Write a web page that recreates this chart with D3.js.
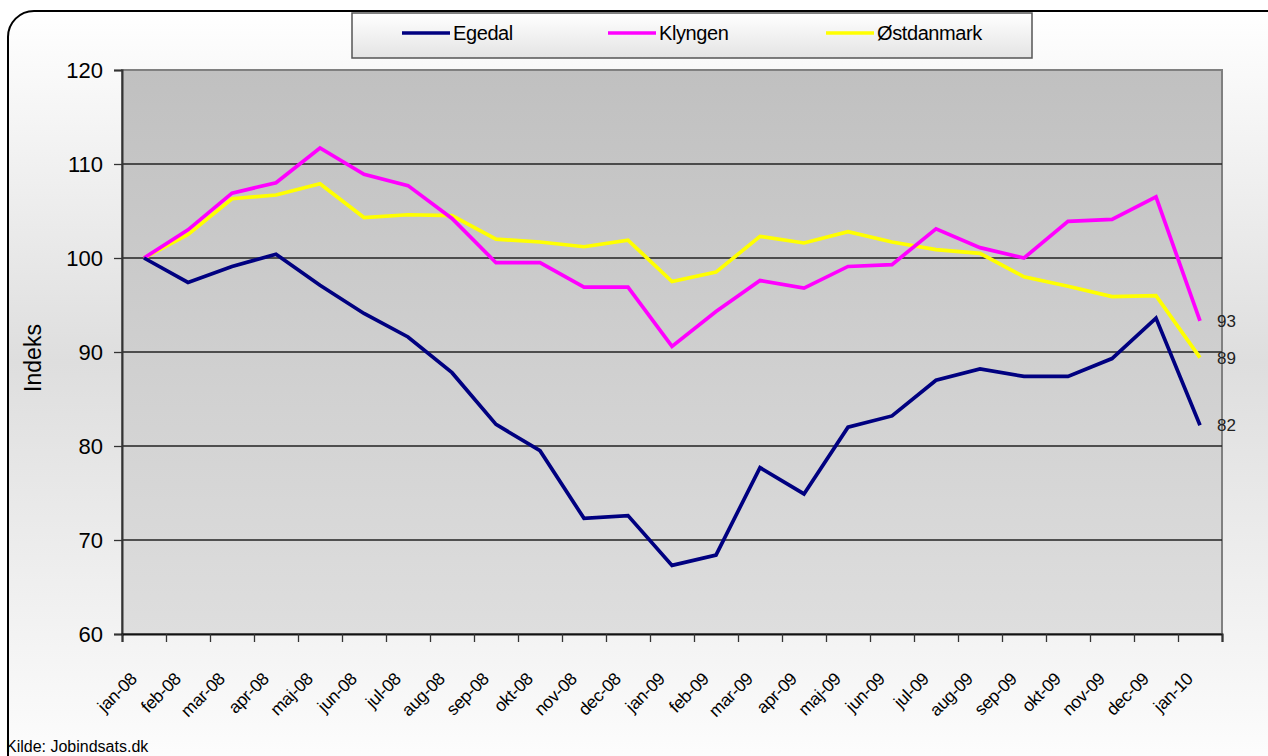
<!DOCTYPE html>
<html>
<head>
<meta charset="utf-8">
<script src="https://cdnjs.cloudflare.com/ajax/libs/d3/7.8.5/d3.min.js"></script>
<style>
  html, body { margin: 0; padding: 0; background: #fff; }
  svg { display: block; font-family: "Liberation Sans", Arial, sans-serif; }
</style>
</head>
<body>
<div class="chart"></div>
<script>
// categories (months) and index values, jan-08 = 100
var months = ["jan-08","feb-08","mar-08","apr-08","maj-08","jun-08","jul-08","aug-08",
  "sep-08","okt-08","nov-08","dec-08","jan-09","feb-09","mar-09","apr-09","maj-09",
  "jun-09","jul-09","aug-09","sep-09","okt-09","nov-09","dec-09","jan-10"];

var egedal = [100, 97.4, 99.1, 100.4, 97.1, 94.1, 91.6, 87.8, 82.3, 79.5, 72.3, 72.6,
  67.3, 68.4, 77.7, 74.9, 82.0, 83.2, 87.0, 88.2, 87.4, 87.4, 89.3, 93.6, 82.2];
var klyngen = [100, 103.0, 106.9, 108.0, 111.7, 108.9, 107.7, 104.2, 99.5, 99.5, 96.9, 96.9,
  90.6, 94.3, 97.6, 96.8, 99.1, 99.3, 103.1, 101.1, 100.0, 103.9, 104.1, 106.5, 93.3];
var ostdanmark = [100, 102.5, 106.3, 106.7, 107.9, 104.3, 104.6, 104.5, 102.0, 101.7, 101.2, 101.9,
  97.5, 98.5, 102.3, 101.6, 102.8, 101.7, 100.9, 100.5, 98.0, 97.0, 95.9, 96.0, 89.4];

var seriesNames = ["Egedal", "Klyngen", "Østdanmark"];
var seriesColors = ["#000080", "#ff00ff", "#ffff00"];
var endLabels = ["82", "93", "89"];
var yTicks = [60, 70, 80, 90, 100, 110, 120];

var W = 1268, H = 756;
var plot = {left: 122, right: 1222, top: 70, bottom: 634};

var svg = d3.select(".chart").append("svg")
  .attr("width", W)
  .attr("height", H);

var defs = svg.append("defs");
var bgGrad = defs.append("linearGradient").attr("id", "bgGrad")
  .attr("x1", 0).attr("y1", 0).attr("x2", 0).attr("y2", 1);
bgGrad.append("stop").attr("offset", "0%").attr("stop-color", "#ffffff");
bgGrad.append("stop").attr("offset", "45%").attr("stop-color", "#dedede");
bgGrad.append("stop").attr("offset", "100%").attr("stop-color", "#ffffff");

var plotGrad = defs.append("linearGradient").attr("id", "plotGrad")
  .attr("x1", 0).attr("y1", 0).attr("x2", 0).attr("y2", 1);
plotGrad.append("stop").attr("offset", "0%").attr("stop-color", "#c0c0c0");
plotGrad.append("stop").attr("offset", "100%").attr("stop-color", "#dedede");

var legGrad = defs.append("linearGradient").attr("id", "legGrad")
  .attr("x1", 0).attr("y1", 0).attr("x2", 0).attr("y2", 1);
legGrad.append("stop").attr("offset", "0%").attr("stop-color", "#ffffff");
legGrad.append("stop").attr("offset", "100%").attr("stop-color", "#e4e4e4");

// outer chart area
svg.append("rect")
  .attr("x", 8).attr("y", 11)
  .attr("width", 1290).attr("height", 780)
  .attr("rx", 26).attr("ry", 26)
  .style("fill", "url(#bgGrad)")
  .style("stroke", "#000")
  .style("stroke-width", 2);

var x = d3.scaleBand().domain(months).range([plot.left, plot.right]);
var xi = d3.scaleLinear().domain([0, months.length]).range([plot.left, plot.right]);
var y = d3.scaleLinear().domain([60, 120]).range([plot.bottom, plot.top]);

// plot area
svg.append("rect")
  .attr("x", plot.left).attr("y", plot.top)
  .attr("width", plot.right - plot.left).attr("height", plot.bottom - plot.top)
  .style("fill", "url(#plotGrad)")
  .style("stroke", "#808080")
  .style("stroke-width", 2);

// gridlines
svg.append("g").selectAll("line")
  .data(yTicks.filter(function(d) { return d > 60 && d < 120; }))
  .enter().append("line")
  .attr("x1", plot.left).attr("x2", plot.right)
  .attr("y1", function(d) { return y(d); })
  .attr("y2", function(d) { return y(d); })
  .style("stroke", "#222")
  .style("stroke-width", 1.3);

// y axis
var yAxis = svg.append("g")
  .attr("transform", "translate(" + plot.left + ",0)")
  .call(d3.axisLeft(y).tickValues(yTicks).tickSize(8).tickPadding(11));
yAxis.select(".domain").style("stroke", "#333").style("stroke-width", 2);
yAxis.selectAll(".tick line").style("stroke", "#333").style("stroke-width", 1.3);
yAxis.selectAll("text")
  .style("font-size", "22px")
  .style("fill", "#000")
  .style("font-family", "Liberation Sans, Arial, sans-serif");

// x axis ticks at category boundaries
var xTickAxis = svg.append("g")
  .attr("transform", "translate(0," + plot.bottom + ")")
  .call(d3.axisBottom(xi).tickValues(d3.range(months.length + 1)).tickSize(8).tickFormat(""));
xTickAxis.select(".domain").style("stroke", "#111").style("stroke-width", 2);
xTickAxis.selectAll(".tick line").style("stroke", "#333").style("stroke-width", 1.3);

// x labels
svg.append("g").selectAll("text")
  .data(months)
  .enter().append("text")
  .attr("transform", function(d) {
    return "translate(" + (x(d) + x.bandwidth() / 2 - 6) + "," + (plot.bottom + 46) + ") rotate(-45)";
  })
  .attr("text-anchor", "end")
  .style("font-size", "17.5px")
  .style("letter-spacing", "-0.3px")
  .style("fill", "#000")
  .text(function(d) { return d; });

// y axis title
svg.append("text")
  .attr("transform", "translate(41," + ((plot.top + plot.bottom) / 2 + 6) + ") rotate(-90)")
  .attr("text-anchor", "middle")
  .style("font-size", "23px")
  .text("Indeks");

// lines
var seriesData = [egedal, klyngen, ostdanmark];
var line = d3.line()
  .x(function(d, i) { return x(months[i]) + x.bandwidth() / 2; })
  .y(function(d) { return y(d); });

var drawOrder = [2, 1, 0];
drawOrder.forEach(function(s) {
  svg.append("path")
    .datum(seriesData[s])
    .attr("d", line)
    .style("fill", "none")
    .style("stroke", seriesColors[s])
    .style("stroke-width", 3.7)
    .style("stroke-linejoin", "miter");
});

// end value labels
seriesData.forEach(function(vals, s) {
  var last = vals.length - 1;
  svg.append("text")
    .attr("x", x(months[last]) + x.bandwidth() / 2 + 17)
    .attr("y", y(vals[last]) + 6)
    .style("font-size", "17px")
    .style("fill", "#222")
    .text(endLabels[s]);
});

// legend
var legend = svg.append("g");
legend.append("rect")
  .attr("x", 352).attr("y", 13)
  .attr("width", 680).attr("height", 45)
  .style("fill", "url(#legGrad)")
  .style("stroke", "#555")
  .style("stroke-width", 1.5);

var legX = [402, 608, 826];
seriesNames.forEach(function(name, s) {
  legend.append("line")
    .attr("x1", legX[s]).attr("x2", legX[s] + 48)
    .attr("y1", 33).attr("y2", 33)
    .style("stroke", seriesColors[s])
    .style("stroke-width", 3.7);
  legend.append("text")
    .attr("x", legX[s] + 51)
    .attr("y", 40)
    .style("font-size", "20px")
    .style("letter-spacing", "-0.4px")
    .text(name);
});

// source
svg.append("text")
  .attr("x", 6)
  .attr("y", 752)
  .style("font-size", "16px")
  .text("Kilde: Jobindsats.dk");
</script>
</body>
</html>
